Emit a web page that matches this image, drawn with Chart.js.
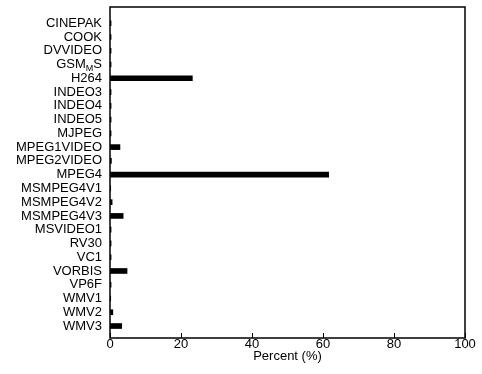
<!DOCTYPE html>
<html>
<head>
<meta charset="utf-8">
<script src="https://cdn.jsdelivr.net/npm/chart.js@4/dist/chart.umd.min.js"></script>
<style>
  html, body { margin: 0; padding: 0; background: #fff; }
  canvas { display: block; }
</style>
</head>
<body>
<canvas id="chart" width="482" height="374"></canvas>
<script>
// ── Data ─────────────────────────────────────────────────────────────────────

const CODECS = ['CINEPAK', 'COOK', 'DVVIDEO', 'GSM_MS', 'H264', 'INDEO3', 'INDEO4', 'INDEO5',
  'MJPEG', 'MPEG1VIDEO', 'MPEG2VIDEO', 'MPEG4', 'MSMPEG4V1', 'MSMPEG4V2', 'MSMPEG4V3',
  'MSVIDEO1', 'RV30', 'VC1', 'VORBIS', 'VP6F', 'WMV1', 'WMV2', 'WMV3'];
const PERCENT = [0.3, 0.3, 0.3, 0.3, 23.2, 0.3, 0.3, 0.3,
  0.3, 2.8, 0.4, 61.6, 0.2, 0.6, 3.7,
  0.3, 0.3, 0.3, 4.8, 0.3, 0.2, 0.8, 3.3];
const X_TICKS = [0, 20, 40, 60, 80, 100];

const FONT = { family: 'Liberation Sans, Arial, Helvetica, sans-serif', size: 13 };

// ── Plugins ──────────────────────────────────────────────────────────────────

// box round the plot and inward ticks on the bottom axis
const framePlugin = {
  id: 'frame',
  afterDatasetsDraw(chart) {
    const { ctx, chartArea: a, scales } = chart;
    ctx.save();
    ctx.strokeStyle = '#000';
    ctx.lineWidth = 1.5;
    ctx.strokeRect(a.left, a.top, a.right - a.left, a.bottom - a.top);
    ctx.lineWidth = 1;
    X_TICKS.forEach(t => {
      const x = Math.round(scales.x.getPixelForValue(t)) + 0.5;
      ctx.beginPath();
      ctx.moveTo(x, a.bottom);
      ctx.lineTo(x, a.bottom - 5);
      ctx.stroke();
    });
    ctx.restore();
  }
};

// GSM_MS label with a subscript M
const subscriptPlugin = {
  id: 'subscript',
  afterDraw(chart) {
    const { ctx, scales } = chart;
    const idx = CODECS.indexOf('GSM_MS');
    const y = scales.y.getPixelForValue(idx);
    const right = scales.y.right - 8;
    ctx.save();
    ctx.fillStyle = '#000';
    ctx.textBaseline = 'middle';
    ctx.textAlign = 'left';
    const big = `${FONT.size}px ${FONT.family}`;
    const small = `9px ${FONT.family}`;
    ctx.font = big;
    const wG = ctx.measureText('GSM').width;
    const wS = ctx.measureText('S').width;
    ctx.font = small;
    const wM = ctx.measureText('M').width;
    let x = right - (wG + wM + wS);
    ctx.font = big;
    ctx.fillText('GSM', x, y);
    x += wG;
    ctx.font = small;
    ctx.fillText('M', x, y + 4);
    x += wM;
    ctx.font = big;
    ctx.fillText('S', x, y);
    ctx.restore();
  }
};

// ── Chart ────────────────────────────────────────────────────────────────────

new Chart(document.getElementById('chart'), {
  type: 'bar',
  data: {
    datasets: [{
      data: PERCENT.map((v, i) => ({ x: v, y: i })),
      backgroundColor: '#000',
      borderWidth: 0,
      barThickness: 5,
    }],
  },
  options: {
    indexAxis: 'y',
    responsive: false,
    animation: false,
    layout: { padding: { left: 0, top: 0, right: 17, bottom: 10 } },
    plugins: { legend: { display: false }, tooltip: { enabled: false } },
    scales: {
      x: {
        type: 'linear',
        min: 0, max: 100,
        afterBuildTicks: s => { s.ticks = X_TICKS.map(v => ({ value: v })); },
        afterFit: s => { s.height = 26; s.paddingLeft = 0; s.paddingRight = 0; },
        grid: { display: false, drawTicks: false, tickLength: 0 },
        border: { display: false },
        ticks: { color: '#000', font: FONT, padding: -1, maxRotation: 0 },
        title: { display: true, text: 'Percent (%)', color: '#000', font: FONT, padding: 0 },
      },
      y: {
        type: 'linear',
        reverse: true,
        offset: false,
        min: -1.18, max: 22.87,
        afterBuildTicks: s => { s.ticks = CODECS.map((_, i) => ({ value: i })); },
        afterFit: s => { s.width = 110; s.paddingTop = 7; s.paddingBottom = 0; },
        grid: { display: false, drawTicks: false, tickLength: 0 },
        border: { display: false },
        ticks: {
          color: '#000', font: FONT, padding: 8, autoSkip: false,
          callback: v => CODECS[v] === 'GSM_MS' ? '' : CODECS[v],
        },
      },
    },
  },
  plugins: [framePlugin, subscriptPlugin],
});
</script>
</body>
</html>
